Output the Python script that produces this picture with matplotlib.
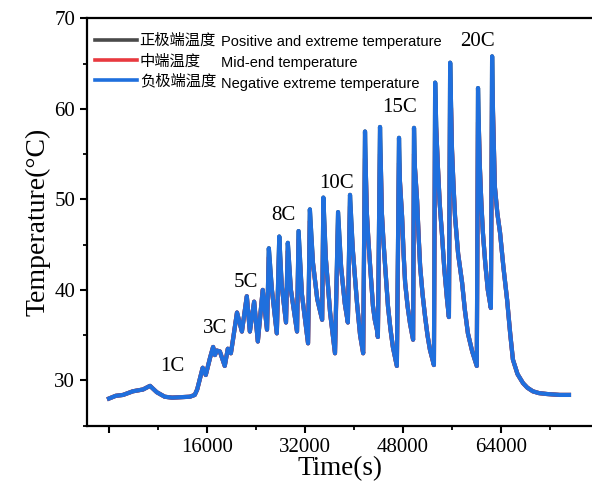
import matplotlib
matplotlib.use("Agg")
import matplotlib.pyplot as plt
from matplotlib.ticker import MultipleLocator, FuncFormatter

# ---------------- data ----------------
# one row per stage of the test, time (s) and negative-end temperature (°C)
time_s = [
    0, 1100, 2300, 3900, 5550, 6700, 7800, 9100, 10300, 11600, 13200, 14000,
    14400, 15300, 15800, 16500, 17000, 17300, 17600, 18100, 18400, 18900, 19400, 19900,
    20200, 20900, 21700, 22500, 23000, 23700, 24300, 25100, 25800,
    26100, 26600, 27400, 27800, 28200, 28900, 29200, 29700, 30700, 30950, 31500, 32500,
    32800, 33300, 34000, 34800, 35000, 35400, 36100, 36900, 37400, 37900, 38500, 39000,
    39350, 39800, 40500, 41000, 41500,
    41800, 41950, 42100, 42350, 42600, 43100, 43400, 43750, 43900,
    44250, 44400, 44550, 44800, 45050, 45550, 45950, 46350, 47000,
    47350, 47500, 47850, 48100, 48350, 48750, 49150, 49650,
    49800, 49950, 50300, 50550, 50800, 51200, 51600, 52000, 52400, 53050,
    53250, 53450, 53700, 54000, 54350, 54750, 55200, 55500,
    55700, 55850, 56000, 56250, 56500, 57000, 57650, 58100, 58600, 59300, 60050,
    60250, 60400, 60550, 60800, 61050, 61450, 61850, 62350,
    62550, 62700, 63000, 63400, 63850, 64400, 65000, 65500, 65950, 66700, 67600,
    68300, 69200, 70200, 71500, 73600, 75100]

neg_temp = [
    28.0, 28.3, 28.4, 28.8, 29.0, 29.4, 28.7, 28.2, 28.1, 28.15, 28.2, 28.4,
    29.0, 31.4, 30.6, 32.5, 33.7, 32.8, 33.3, 33.2, 32.6, 31.6, 33.5, 33.0,
    34.3, 37.5, 35.4, 39.3, 35.4, 38.7, 34.3, 40.0, 35.6,
    44.6, 40.0, 35.2, 45.9, 40.5, 36.4, 45.2, 40.0, 35.4, 46.5, 39.5, 34.1,
    48.9, 43.0, 39.0, 36.7, 50.2, 43.5, 37.5, 33.0, 48.6, 42.5, 38.5, 36.4,
    50.5, 44.5, 38.5, 35.0, 33.0,
    57.5, 52.5, 48.5, 45.5, 43.0, 38.2, 36.7, 35.6, 34.8,
    58.0, 53.0, 48.5, 45.5, 43.0, 38.2, 35.7, 33.7, 31.6,
    56.8, 52.0, 48.1, 44.0, 40.8, 38.2, 36.3, 34.5,
    57.9, 53.5, 49.9, 46.0, 42.6, 39.5, 37.1, 35.0, 33.4, 31.7,
    62.9, 57.5, 53.6, 49.5, 46.3, 42.3, 38.9, 37.0,
    65.1, 60.0, 55.5, 51.5, 48.1, 44.0, 40.8, 37.8, 35.2, 33.2, 31.6,
    62.3, 57.5, 53.6, 49.5, 46.3, 42.8, 40.0, 38.0,
    65.8, 59.5, 51.4, 48.5, 46.3, 42.5, 38.9, 35.2, 32.3, 30.7, 29.7,
    29.2, 28.8, 28.6, 28.5, 28.4, 28.4]

# the positive-end curve lies under the negative-end one everywhere
pos_temp = list(neg_temp)

# the mid-end curve only shows as lower peaks (time -> peak °C)
mid_peaks = {26100: 43.6, 27800: 44.9, 29200: 44.3, 30950: 45.5, 32800: 47.6,
             35000: 48.9, 37400: 47.3, 39350: 49.2, 41800: 54.5, 44250: 55.0,
             47350: 54.0, 49800: 55.0, 53250: 59.0, 55700: 61.0, 60250: 58.5,
             62550: 62.0}
mid_temp = [mid_peaks.get(t, v) for t, v in zip(time_s, neg_temp)]

series_cn = ["正极端温度", "中端温度", "负极端温度"]
series_en = ["Positive and extreme temperature", "Mid-end temperature",
             "Negative extreme temperature"]
series_colors = ["#4a4a4a", "#e8393f", "#1f6fdd"]

rate_labels = ["1C", "3C", "5C", "8C", "10C", "15C", "20C"]
rate_label_t = [10300, 17300, 22400, 28400, 37200, 47500, 60100]
rate_label_y = [31.5, 35.7, 40.8, 48.2, 51.8, 60.1, 67.4]

assert len(time_s) == len(neg_temp)

# ---------------- figure ----------------
W, H = 592, 490
fig = plt.figure(figsize=(W / 100, H / 100), dpi=100)
ax = fig.add_axes([87 / W, 1 - 425.7 / H, (W - 87) / W, (425.7 - 18.3) / H])

serif = "Liberation Serif"
lw = 3.0
l1, = ax.plot(time_s, pos_temp, color=series_colors[0], lw=lw, zorder=2,
              solid_joinstyle="round")
l2, = ax.plot(time_s, mid_temp, color=series_colors[1], lw=lw, zorder=3,
              solid_joinstyle="round")
l3, = ax.plot(time_s, neg_temp, color=series_colors[2], lw=lw, zorder=4,
              solid_joinstyle="round")

ax.set_xlim(-3590, 78860)
ax.set_ylim(25, 70)

ax.xaxis.set_major_locator(MultipleLocator(16000))
ax.xaxis.set_minor_locator(MultipleLocator(8000))
ax.yaxis.set_major_locator(MultipleLocator(10))
ax.yaxis.set_minor_locator(MultipleLocator(5))
ax.xaxis.set_major_formatter(FuncFormatter(lambda v, p: "" if v == 0 else f"{int(v)}"))

ax.tick_params(axis="both", which="major", direction="out", length=5, width=1.5,
               labelsize=15)
ax.tick_params(axis="both", which="minor", direction="out", length=3, width=1.3)
for lab in ax.get_xticklabels() + ax.get_yticklabels():
    lab.set_fontfamily(serif)

for s in ["left", "bottom", "top"]:
    ax.spines[s].set_linewidth(1.6)
ax.spines["right"].set_visible(False)

ax.set_xlabel("Time(s)", fontsize=19.5, family=serif, labelpad=0)
ax.set_ylabel("Temperature(\u00b0C)", fontsize=20, family=serif, labelpad=3)

for lab, t, y in zip(rate_labels, rate_label_t, rate_label_y):
    ax.text(t, y, lab, fontsize=15, family=serif, ha="center", va="center")

leg = ax.legend([l1, l2, l3], series_cn, loc="upper left",
                bbox_to_anchor=(0.0, 0.985), frameon=False,
                prop={"family": ["Noto Sans CJK SC", "DejaVu Sans"], "size": 11,
                      "weight": "light"},
                handlelength=2.75, handletextpad=0.2, labelspacing=0.22,
                borderaxespad=0.3, borderpad=0.2)
for line in leg.get_lines():
    line.set_linewidth(2.6)

row_y = [42, 63, 84]
for txt, yy in zip(series_en, row_y):
    fig.text(221 / W, 1 - yy / H, txt, fontsize=10.5, family="Liberation Sans",
             ha="left", va="center")

fig.savefig("out.png", dpi=100)
